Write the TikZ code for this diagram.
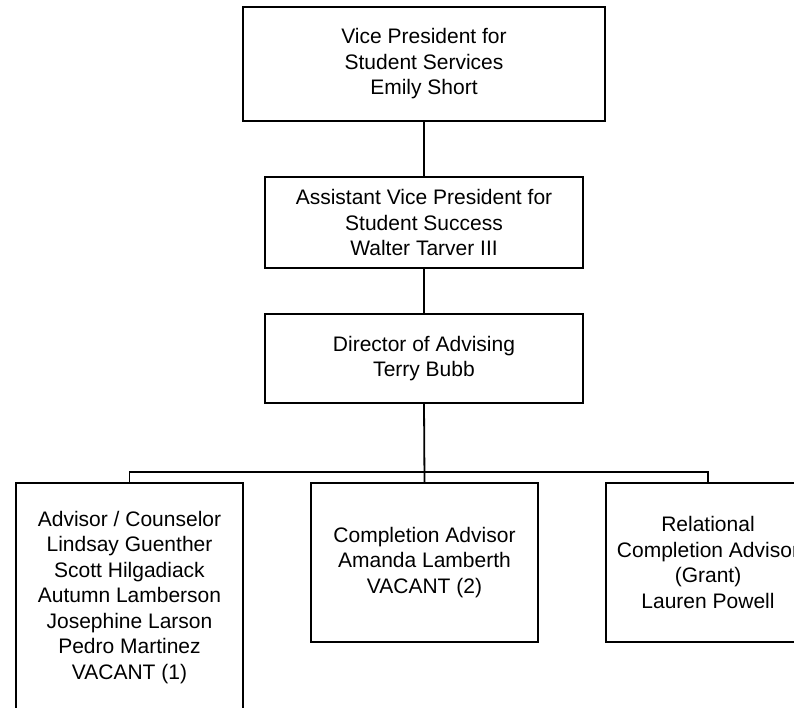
\documentclass[tikz,border=0pt]{standalone}
\usepackage{fontspec}
\setmainfont{Liberation Sans}
\usetikzlibrary{positioning, calc}

\begin{document}
\begin{tikzpicture}[
    x=1pt, y=-1pt,
    font=\fontsize{21}{25.5}\selectfont,
    post/.style={draw, line width=1.5pt, align=center, inner sep=0pt},
    link/.style={line width=1.2pt},
    trunk/.style={line width=1.8pt}
]
\useasboundingbox (0,0) rectangle (794,708);

\node[post, minimum width=362pt, minimum height=114pt] (vp) at (424,64) {Vice President for\\Student Services\\Emily Short};
\node[post, minimum width=318pt, minimum height=91pt] (avp) at (424,222.5) {Assistant Vice President for\\Student Success\\Walter Tarver III};
\node[post, minimum width=318pt, minimum height=89pt] (director) at (424,358.5) {Director of Advising\\Terry Bubb};

\node[post, minimum width=227pt, minimum height=229pt] (advisors) at (129.5,597.5) {Advisor / Counselor\\Lindsay Guenther\\Scott Hilgadiack\\Autumn Lamberson\\Josephine Larson\\Pedro Martinez\\VACANT (1)};
\node[post, minimum width=227pt, minimum height=159pt] (completion) at (424.5,562.5) {Completion Advisor\\Amanda Lamberth\\VACANT (2)};
\node[post, minimum width=204pt, minimum height=159pt] (relational) at (708,562.5) {Relational\\Completion Advisor\\(Grant)\\Lauren Powell};

\coordinate (bus) at (424.5,472);

\draw[link] (vp) -- (avp);
\draw[link] (avp) -- (director);
\draw[trunk] (director.south) -- (completion.north);
\draw[link] (advisors.north) |- (bus) -| (relational.north);
\end{tikzpicture}
\end{document}
